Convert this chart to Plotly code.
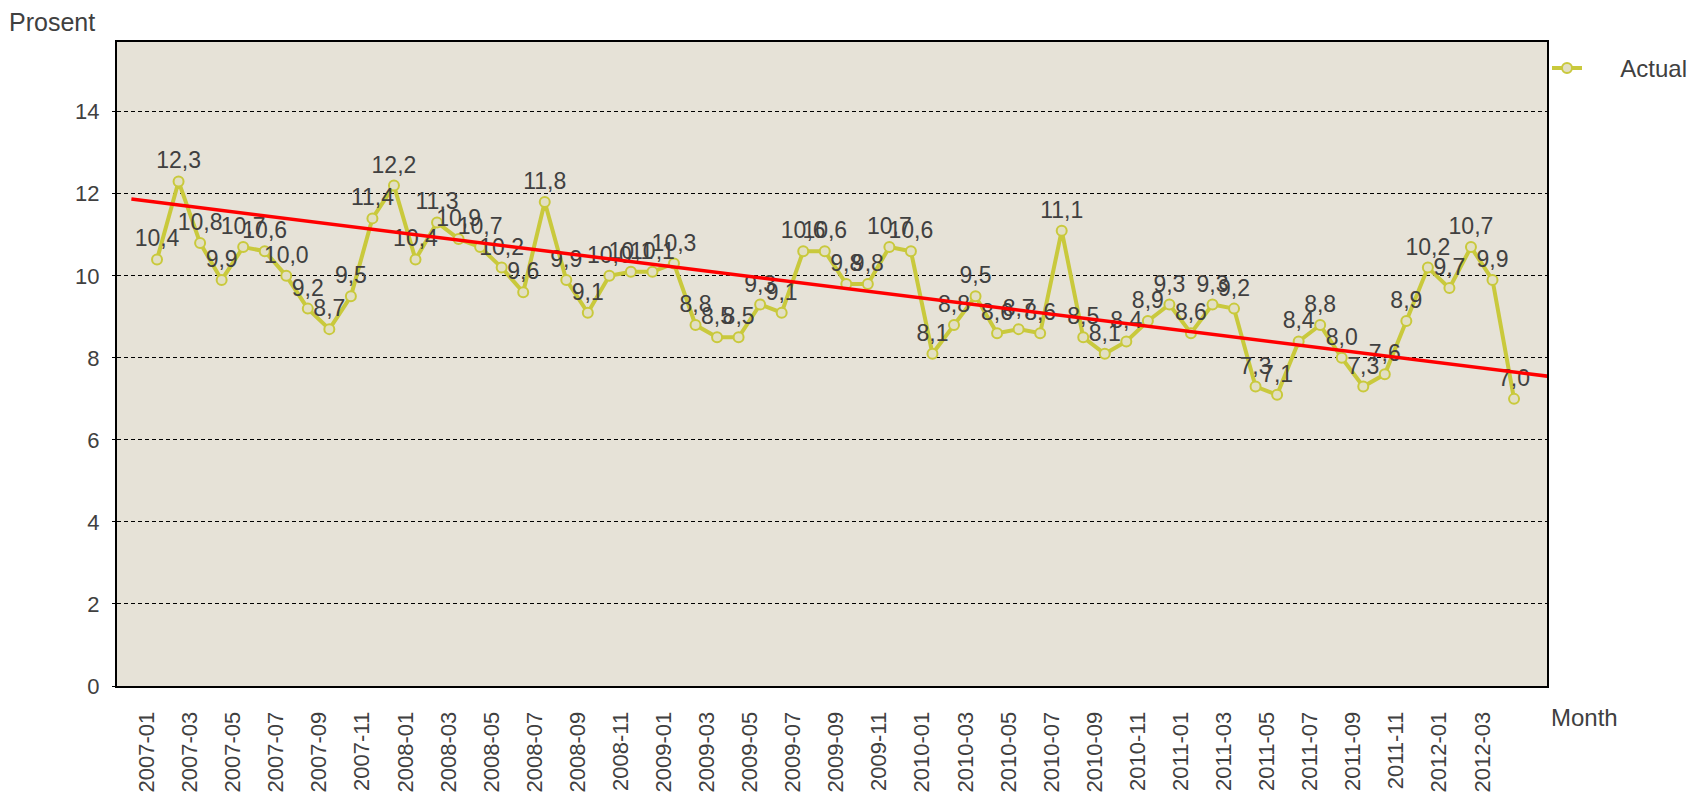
import plotly.graph_objects as go

# ---- data ----
months = [f"{y}-{m:02d}" for y in range(2007, 2013) for m in range(1, 13)][:64]
actual = [10.4, 12.3, 10.8, 9.9, 10.7, 10.6, 10.0, 9.2, 8.7, 9.5, 11.4, 12.2,
          10.4, 11.3, 10.9, 10.7, 10.2, 9.6, 11.8, 9.9, 9.1, 10.0, 10.1, 10.1,
          10.3, 8.8, 8.5, 8.5, 9.3, 9.1, 10.6, 10.6, 9.8, 9.8, 10.7, 10.6,
          8.1, 8.8, 9.5, 8.6, 8.7, 8.6, 11.1, 8.5, 8.1, 8.4, 8.9, 9.3,
          8.6, 9.3, 9.2, 7.3, 7.1, 8.4, 8.8, 8.0, 7.3, 7.6, 8.9, 10.2,
          9.7, 10.7, 9.9, 7.0]
trend_x = [-1.19, 65.36]
trend_y = [11.87, 7.50]
tick_labels = months[::2]
y_ticks = [0, 2, 4, 6, 8, 10, 12, 14]

FONT = "Liberation Sans"
TXT = "#404040"

idx = list(range(len(actual)))
labels = [f"{v:.1f}".replace(".", ",") for v in actual]

fig = go.Figure()
fig.add_trace(go.Scatter(
    x=idx, y=actual, mode="lines+markers+text",
    name="\u00a0" * 5 + "Actual",
    text=labels, textposition="top center",
    textfont=dict(family=FONT, size=23, color=TXT),
    line=dict(color="#C9C93C", width=4),
    marker=dict(symbol="circle", size=10, color="#E2DFC4",
                line=dict(color="#C9C93C", width=2)),
    cliponaxis=False,
))
fig.add_trace(go.Scatter(
    x=trend_x, y=trend_y, mode="lines", showlegend=False,
    line=dict(color="#FF0000", width=3.5), hoverinfo="skip",
))

fig.update_layout(
    width=1696, height=792,
    margin=dict(l=117, r=149, t=42, b=106, autoexpand=False),
    paper_bgcolor="white", plot_bgcolor="#E6E2D7",
    font=dict(family=FONT, size=22, color=TXT),
    showlegend=True,
    legend=dict(x=1.0, y=0.994, xanchor="left", yanchor="top",
                bgcolor="rgba(0,0,0,0)", font=dict(size=24, color=TXT),
                itemwidth=30),
    annotations=[
        dict(text="Prosent", xref="paper", yref="paper", x=-0.0772, y=1.031,
             xanchor="left", yanchor="middle", showarrow=False,
             font=dict(size=25, color=TXT)),
        dict(text="Month", xref="paper", yref="paper", x=1.0016, y=-0.0494,
             xanchor="left", yanchor="middle", showarrow=False,
             font=dict(size=24, color=TXT)),
    ],
)
fig.update_xaxes(
    range=[-1.858, 64.53],
    tickmode="array",
    tickvals=[i - 0.47 for i in range(0, len(actual), 2)],
    ticktext=tick_labels,
    tickangle=-90,
    ticks="", showgrid=False, zeroline=False,
    showline=True, linecolor="black", linewidth=2, mirror=True,
    ticklabelstandoff=15, automargin=False,
    tickfont=dict(size=22, color=TXT),
)
fig.update_yaxes(
    range=[0, 15.7],
    tickmode="array", tickvals=y_ticks,
    ticks="outside", ticklen=3, tickcolor="black",
    showgrid=True, gridcolor="black", gridwidth=1.2, griddash="4px,3px",
    zeroline=False,
    showline=True, linecolor="black", linewidth=2, mirror=True,
    ticklabelstandoff=8, automargin=False,
    tickfont=dict(size=22, color=TXT),
)

fig.write_html("out.html", config={"displayModeBar": False},
               post_script="document.body.style.margin='0px';")
